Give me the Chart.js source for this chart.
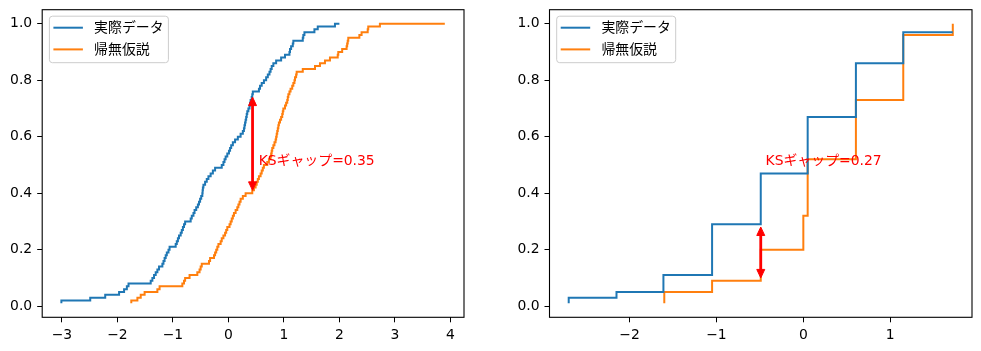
<!DOCTYPE html>
<html><head><meta charset="utf-8">
<script src="https://cdn.jsdelivr.net/npm/chart.js@4"></script>
<style>
html,body{margin:0;padding:0;background:#fff;width:981px;height:351px;overflow:hidden}
canvas{position:absolute;top:0}
</style></head><body>
<canvas id="c1" width="500" height="351" style="left:0px"></canvas>
<canvas id="c2" width="481" height="351" style="left:500px"></canvas>
<script>
// ---------------- data ----------------
const seriesNames = ['実際データ', '帰無仮説'];
const seriesColors = ['#1f77b4', '#ff7f0e'];

// left panel: sorted samples (n = 100 each)
const leftActualSorted = [
 -3.01,-2.49,-2.22,-1.97,-1.88,-1.83,-1.80,-1.40,-1.37,-1.34,
 -1.31,-1.28,-1.25,-1.19,-1.17,-1.15,-1.13,-1.11,-1.08,-1.06,
 -0.95,-0.93,-0.91,-0.89,-0.86,-0.84,-0.82,-0.80,-0.78,-0.68,
 -0.66,-0.63,-0.61,-0.58,-0.55,-0.53,-0.51,-0.49,-0.47,-0.465,
 -0.46,-0.45,-0.42,-0.39,-0.36,-0.32,-0.28,-0.24,-0.12,-0.09,
 -0.07,-0.05,-0.02,0.01,0.03,0.05,0.08,0.12,0.17,0.22,
 0.26,0.28,0.29,0.30,0.31,0.32,0.33,0.34,0.36,0.38,
 0.39,0.40,0.42,0.43,0.44,0.55,0.57,0.60,0.64,0.68,
 0.71,0.74,0.76,0.78,0.81,0.86,0.95,1.02,1.10,1.11,
 1.13,1.16,1.17,1.34,1.35,1.37,1.55,1.61,1.92,2.00];
const leftNullSorted = [
 -1.75,-1.64,-1.58,-1.51,-1.28,-1.24,-0.83,-0.80,-0.78,-0.70,
 -0.56,-0.52,-0.50,-0.48,-0.35,-0.33,-0.26,-0.24,-0.22,-0.20,
 -0.18,-0.14,-0.12,-0.09,-0.06,-0.04,-0.02,0.02,0.04,0.06,
 0.08,0.10,0.13,0.16,0.18,0.20,0.22,0.26,0.31,0.43,
 0.46,0.49,0.51,0.53,0.55,0.58,0.60,0.62,0.64,0.70,
 0.73,0.76,0.77,0.78,0.79,0.81,0.83,0.85,0.86,0.87,
 0.88,0.89,0.90,0.91,0.93,0.95,0.97,0.98,0.99,1.02,
 1.04,1.06,1.07,1.08,1.10,1.12,1.15,1.17,1.19,1.20,
 1.22,1.23,1.34,1.56,1.65,1.74,1.83,1.97,1.98,2.05,
 2.13,2.14,2.15,2.16,2.36,2.40,2.51,2.52,2.73,3.90];

// right panel: step vertices
const rightActualX = [-2.70,-2.15,-1.61,-1.05,-0.49,0.05,0.605,1.15,1.72];
const rightActualY = [0.01,0.03,0.05,0.11,0.29,0.47,0.67,0.86,0.97];
const rightNullX = [-1.60,-1.05,-0.49,0.00,0.05,0.605,1.15,1.72,1.72];
const rightNullY = [0.01,0.05,0.09,0.20,0.32,0.52,0.73,0.96,1.00];

// ticks
const leftXTicks = [-3,-2,-1,0,1,2,3,4];
const rightXTicks = [-2,-1,0,1];
const yTicks = [0.0,0.2,0.4,0.6,0.8,1.0];

// KS gap annotations
const leftGap  = {x: 0.435, lo: 0.40, hi: 0.75, label: 'KSギャップ=0.35', tx: 0.545, ty: 0.5};
const rightGap = {x: -0.49, lo: 0.09, hi: 0.29, label: 'KSギャップ=0.27', tx: -0.435, ty: 0.5};

// ---------------- helpers ----------------
function ecdfPoints(sorted){
  const n = sorted.length;
  return sorted.map((v,i)=>({x:v, y:(i+1)/n}));
}
function zipPoints(xs, ys){ return xs.map((v,i)=>({x:v, y:ys[i]})); }
function minusFmt(v){ return v < 0 ? '\u2212' + Math.abs(v) : String(v); }

const TXT = '"DejaVu Sans", "Noto Sans CJK JP", sans-serif';

const decor = {
  id: 'decor',
  afterDraw(chart, args, opts){
    const {ctx, chartArea: a, scales} = chart;
    ctx.save();
    // spines
    ctx.strokeStyle = '#000'; ctx.lineWidth = 1.1;
    ctx.strokeRect(a.left, a.top, a.right - a.left, a.bottom - a.top);
    // arrow
    const g = opts.gap;
    const x = scales.x.getPixelForValue(g.x);
    const yTop = scales.y.getPixelForValue(g.hi) + 2.8;
    const yBot = scales.y.getPixelForValue(g.lo) - 2.8;
    ctx.strokeStyle = '#ff0000'; ctx.fillStyle = '#ff0000'; ctx.lineWidth = 2.8;
    ctx.beginPath(); ctx.moveTo(x, yTop + 5); ctx.lineTo(x, yBot - 5); ctx.stroke();
    ctx.lineWidth = 1;
    ctx.beginPath(); ctx.moveTo(x, yTop); ctx.lineTo(x - 4, yTop + 8.5); ctx.lineTo(x + 4, yTop + 8.5); ctx.closePath(); ctx.fill(); ctx.stroke();
    ctx.beginPath(); ctx.moveTo(x, yBot); ctx.lineTo(x - 4, yBot - 8.5); ctx.lineTo(x + 4, yBot - 8.5); ctx.closePath(); ctx.fill(); ctx.stroke();
    // text
    ctx.font = '13.9px ' + TXT;
    ctx.textAlign = 'left'; ctx.textBaseline = 'alphabetic';
    ctx.fillText(g.label, scales.x.getPixelForValue(g.tx), scales.y.getPixelForValue(g.ty));
    // legend
    const bx = a.left + 7.2, by = a.top + 6.5, bw = 119, bh = 46.5, r = 3;
    ctx.beginPath();
    ctx.moveTo(bx + r, by); ctx.lineTo(bx + bw - r, by); ctx.arcTo(bx + bw, by, bx + bw, by + r, r);
    ctx.lineTo(bx + bw, by + bh - r); ctx.arcTo(bx + bw, by + bh, bx + bw - r, by + bh, r);
    ctx.lineTo(bx + r, by + bh); ctx.arcTo(bx, by + bh, bx, by + bh - r, r);
    ctx.lineTo(bx, by + r); ctx.arcTo(bx, by, bx + r, by, r); ctx.closePath();
    ctx.fillStyle = 'rgba(255,255,255,0.8)'; ctx.fill();
    ctx.strokeStyle = '#cccccc'; ctx.lineWidth = 1; ctx.stroke();
    ctx.textBaseline = 'middle';
    chart.data.datasets.forEach((ds, i) => {
      const cy = by + 11.5 + i * 21.7;
      ctx.strokeStyle = ds.borderColor; ctx.lineWidth = 2;
      ctx.beginPath(); ctx.moveTo(bx + 4, cy); ctx.lineTo(bx + 33.5, cy); ctx.stroke();
      ctx.fillStyle = '#000';
      ctx.fillText(ds.label, bx + 44.7, cy + 0.5);
    });
    ctx.restore();
  }
};

function makeChart(canvasId, datasets, xMin, xMax, xTicks, yAxisWidth, padRight, gap){
  return new Chart(document.getElementById(canvasId), {
    type: 'line',
    data: { datasets },
    options: {
      responsive: false, animation: false, devicePixelRatio: 1,
      layout: { padding: { left: 0, right: padRight, top: 9.7, bottom: 0 } },
      plugins: { legend: { display: false }, tooltip: { enabled: false }, decor: { gap } },
      elements: { point: { radius: 0 }, line: { borderWidth: 2, tension: 0 } },
      scales: {
        x: {
          type: 'linear', min: xMin, max: xMax,
          afterBuildTicks: s => { s.ticks = xTicks.map(v => ({ value: v })); },
          afterFit: s => { s.height = 33.7; s.paddingLeft = 0; s.paddingRight = 0; },
          border: { display: false },
          grid: { drawOnChartArea: false, drawTicks: true, tickLength: 5, color: '#000', lineWidth: 1 },
          ticks: { color: '#000', padding: 4.5, maxRotation: 0, autoSkip: false,
                   font: { family: '"DejaVu Sans"', size: 13.9 },
                   callback: v => minusFmt(v) }
        },
        y: {
          type: 'linear', min: -0.0395, max: 1.0495,
          afterBuildTicks: s => { s.ticks = yTicks.map(v => ({ value: v })); },
          afterFit: s => { s.width = yAxisWidth; s.paddingTop = 0; s.paddingBottom = 0; },
          border: { display: false },
          grid: { drawOnChartArea: false, drawTicks: true, tickLength: 5, color: '#000', lineWidth: 1 },
          ticks: { color: '#000', padding: 5, autoSkip: false,
                   font: { family: '"DejaVu Sans"', size: 13.9 },
                   callback: v => v.toFixed(1) }
        }
      }
    },
    plugins: [decor]
  });
}

makeChart('c1', [
  { label: seriesNames[0], data: ecdfPoints(leftActualSorted), borderColor: seriesColors[0], stepped: 'after', fill: false },
  { label: seriesNames[1], data: ecdfPoints(leftNullSorted), borderColor: seriesColors[1], stepped: 'after', fill: false }
], -3.3555, 4.2455, leftXTicks, 42.2, 36, leftGap);

makeChart('c2', [
  { label: seriesNames[0], data: zipPoints(rightActualX, rightActualY), borderColor: seriesColors[0], stepped: 'after', fill: false },
  { label: seriesNames[1], data: zipPoints(rightNullX, rightNullY), borderColor: seriesColors[1], stepped: 'after', fill: false }
], -2.921, 1.941, rightXTicks, 49.5, 9, rightGap);
</script>
</body></html>
